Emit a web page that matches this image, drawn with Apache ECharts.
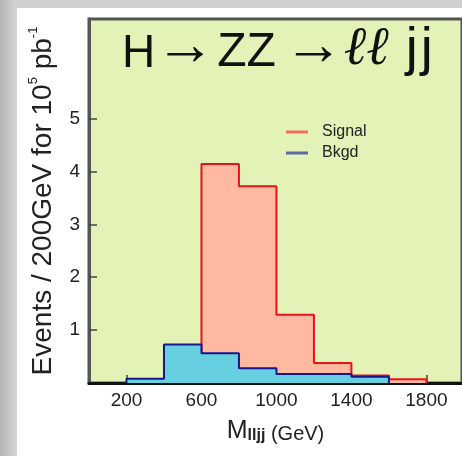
<!DOCTYPE html>
<html>
<head>
<meta charset="utf-8">
<script src="https://cdn.jsdelivr.net/npm/echarts@6/dist/echarts.min.js"></script>
<style>
  html, body { margin: 0; padding: 0; background: #fff; }
  #main { width: 462px; height: 456px; }
</style>
</head>
<body>
<div id="main"></div>
<script>
// bins of 200 GeV, lower edges
var binLow = [200, 400, 600, 800, 1000, 1200, 1400, 1600];
var binWidth = 200;
var signal = [0, 0, 4.14, 3.72, 1.29, 0.38, 0.14, 0.07];
var bkgd = [0.08, 0.73, 0.56, 0.28, 0.17, 0.17, 0.12, 0];
var xTicks = [200, 400, 600, 800, 1000, 1200, 1400, 1600, 1800];
var xLabels = [200, 600, 1000, 1400, 1800];
var yTicks = [1, 2, 3, 4, 5];

// histogram outline as step line, from first to last filled bin
function steps(vals) {
  var first = -1, last = -1;
  for (var i = 0; i < vals.length; i++) {
    if (vals[i] > 0) { if (first < 0) first = i; last = i; }
  }
  var out = [[binLow[first], 0]];
  for (var k = first; k <= last; k++) out.push([binLow[k], vals[k]]);
  out.push([binLow[last] + binWidth, 0]);
  return out;
}

var font = 'Liberation Sans, Arial, sans-serif';
var chart = echarts.init(document.getElementById('main'));

function tok(size, extra) {
  var o = { fontSize: size, lineHeight: size, fontWeight: 'normal', fontFamily: font,
    color: '#111', verticalAlign: 'bottom' };
  for (var k in extra) o[k] = extra[k];
  return o;
}

var option = {
  animation: false,
  backgroundColor: '#fff',
  graphic: [
    { type: 'rect', silent: true, z: -10, shape: { x: 0, y: 0, width: 462, height: 8 },
      style: { fill: '#d0d0d0' } },
    { type: 'rect', silent: true, z: -10, shape: { x: 0, y: 0, width: 17, height: 456 },
      style: { fill: new echarts.graphic.LinearGradient(0, 0, 1, 0, [
        { offset: 0, color: '#b4b4b4' }, { offset: 1, color: '#d4d4d4' }]) } }
  ],
  title: {
    text: '{h|H}{r|→}{z|ZZ}{r2|→}{l|ℓℓ}{j|j}{j2|j}',
    left: 117,
    top: 18,
    textStyle: {
      rich: {
        h: tok(46),
        r: tok(60, { lineHeight: 42 }),
        z: tok(48, { padding: [0, 0, 0, 2] }),
        r2: tok(60, { lineHeight: 42, padding: [0, 0, 0, 8] }),
        l: tok(54, { fontFamily: 'DejaVu Serif', fontStyle: 'italic' }),
        j: tok(54, { padding: [0, 0, 0, 17] }),
        j2: tok(54, { padding: [0, 0, 0, 3] })
      }
    }
  },
  legend: {
    orient: 'vertical',
    left: 281,
    top: 119,
    itemWidth: 22,
    itemHeight: 3,
    itemGap: 5,
    icon: 'rect',
    textStyle: { fontSize: 16, fontFamily: font, color: '#222', padding: [0, 0, 0, 9] },
    data: [
      { name: 'Signal', itemStyle: { color: '#f07060' } },
      { name: 'Bkgd', itemStyle: { color: '#5e6aa6' } }
    ]
  },
  grid: {
    left: 89, right: 0, top: 19, bottom: 73,
    outerBoundsMode: 'none',
    show: true,
    backgroundColor: '#e3f2b6',
    borderColor: '#555',
    borderWidth: 3
  },
  xAxis: {
    type: 'value',
    min: 0,
    max: 1990,
    name: '{m|M}{s|lljj}{g| (GeV)}',
    nameLocation: 'middle',
    nameGap: 29,
    nameTextStyle: {
      rich: {
        m: { fontSize: 25, fontFamily: font, color: '#222', verticalAlign: 'bottom', lineHeight: 32 },
        s: { fontSize: 16, fontFamily: font, color: '#222', fontWeight: 'bold', verticalAlign: 'bottom', lineHeight: 27 },
        g: { fontSize: 20, fontFamily: font, color: '#222', verticalAlign: 'bottom', lineHeight: 32 }
      }
    },
    axisLine: { show: true, lineStyle: { color: '#111', width: 3 } },
    axisTick: { show: true, inside: true, length: 8, customValues: xTicks,
      lineStyle: { color: '#444', width: 1.5 } },
    axisLabel: { customValues: xLabels, fontSize: 19, fontFamily: font, color: '#222', margin: 8,
      formatter: function (v) { return String(v); } },
    splitLine: { show: false }
  },
  yAxis: {
    type: 'value',
    min: 0,
    max: 6.88,
    name: '{a|Events / 200GeV for 10}{s|5}{a| pb}{s|-1}',
    nameLocation: 'middle',
    nameGap: 32,
    nameTextStyle: {
      rich: {
        a: { fontSize: 28, fontFamily: font, color: '#222', verticalAlign: 'bottom', lineHeight: 30 },
        s: { fontSize: 13, fontFamily: font, color: '#222', verticalAlign: 'top', lineHeight: 30 }
      }
    },
    axisLine: { show: true, lineStyle: { color: '#555', width: 3 } },
    axisTick: { show: true, inside: true, length: 8, customValues: yTicks,
      lineStyle: { color: '#444', width: 1.5 } },
    axisLabel: { customValues: yTicks, fontSize: 19, fontFamily: font, color: '#222', margin: 9 },
    splitLine: { show: false }
  },
  series: [
    {
      name: 'Signal',
      type: 'line',
      step: 'end',
      symbol: 'none',
      data: steps(signal),
      lineStyle: { color: '#e8121a', width: 2 },
      itemStyle: { color: '#e8121a' },
      areaStyle: { color: '#feb9a0', opacity: 1 },
      z: 2
    },
    {
      name: 'Bkgd',
      type: 'line',
      step: 'end',
      symbol: 'none',
      data: steps(bkgd),
      lineStyle: { color: '#161690', width: 2 },
      itemStyle: { color: '#161690' },
      areaStyle: { color: '#67d0e0', opacity: 1 },
      z: 3
    }
  ]
};

chart.setOption(option);
</script>
</body>
</html>
